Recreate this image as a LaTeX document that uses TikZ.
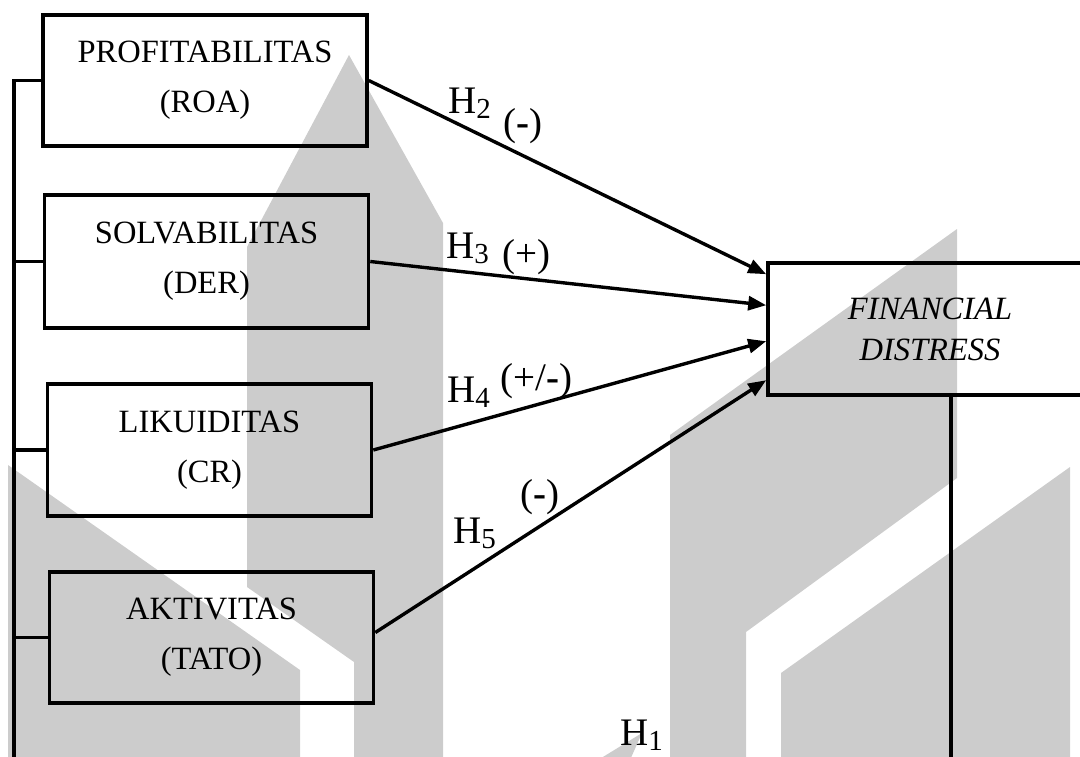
\documentclass[tikz,border=0pt]{standalone}
\usepackage{fontspec}
\setmainfont{Liberation Serif}
\usetikzlibrary{arrows.meta,calc}
\definecolor{wm}{HTML}{CCCCCC}
\newcommand{\hsb}[1]{H\raisebox{-5pt}{\fontsize{29}{30}\selectfont #1}}
\begin{document}
\begin{tikzpicture}[x=1pt,y=-1pt,
  varbox/.style={draw, line width=3.6pt, minimum width=324pt, minimum height=131pt,
    inner sep=0pt, align=center, font=\fontsize{32.5}{50}\selectfont},
  link/.style={line width=3.4pt},
  arr/.style={line width=3.4pt, -{Triangle[length=18pt,width=14pt]}},
  hyp/.style={font=\fontsize{39}{40}\selectfont, inner sep=0pt, anchor=base west},
  wmark/.style={fill=wm, draw=none}]
\useasboundingbox (0,0) rectangle (1080,756);
\clip (0,0) rectangle (1080,756);
% watermark shapes
\path[wmark] (349,55) -- (443,223) -- (443,760) -- (354,760) -- (354,662) -- (247,587) -- (247,247) -- cycle;
\path[wmark] (8,465) -- (300,670) -- (300,760) -- (8,760) -- cycle;
\path[wmark] (670,435) -- (957,229) -- (957,478) -- (746,632) -- (746,760) -- (670,760) -- cycle;
\path[wmark] (1070,467) -- (1070,760) -- (781,760) -- (781,673) -- cycle;
\path[wmark] (598,760) -- (642,733) -- (630,760) -- cycle;
% boxes
\node[varbox] (b1) at (205,80.5) {PROFITABILITAS\\(ROA)};
\node[varbox, minimum height=133pt] (b2) at (206.5,261.5) {SOLVABILITAS\\(DER)};
\node[varbox, minimum height=132pt] (b3) at (209.5,450) {LIKUIDITAS\\(CR)};
\node[varbox] (b4) at (211.5,637.5) {AKTIVITAS\\(TATO)};
\node[varbox, minimum height=132pt, font=\fontsize{32.5}{41}\selectfont\itshape] (fd) at (930,329) {FINANCIAL\\DISTRESS};
% left spine
\coordinate (spb) at (14,770);
\draw[link] (b1.west) -| (spb);
\draw[link] (b2.west) -- (b2.west -| spb);
\draw[link] (b3.west) -- (b3.west -| spb);
\draw[link] (b4.west) -- (b4.west -| spb);
% line below FD
\coordinate (fdb) at (951,770);
\draw[link] (fdb |- fd.south) -- (fdb);
% arrows
\coordinate (t1) at ($(fd.north west)+(0,13)$);
\coordinate (t2) at ($(fd.north west)+(0,44)$);
\coordinate (t3) at ($(fd.north west)+(0,80)$);
\coordinate (t4) at ($(fd.north west)+(0,119)$);
\draw[arr] (b1.east) -- (t1);
\draw[arr] (b2.east) -- (t2);
\draw[arr] (b3.east) -- (t3);
\draw[arr] ($(b4.east)+(0,-5)$) -- (t4);
% labels
\node[hyp] (h2) at (448,113) {\hsb{2}};
\node[hyp] (s2) at (503,135) {(\textbf{-})};
\node[hyp] (h3) at (446,258) {\hsb{3}};
\node[hyp] (s3) at (502,266) {(+)};
\node[hyp] (h4) at (447,402) {\hsb{4}};
\node[hyp] (s4) at (500,390) {(+/\textbf{-})};
\node[hyp] (h5) at (453,543) {\hsb{5}};
\node[hyp] (s5) at (520,506) {(\textbf{-})};
\node[hyp] (h1) at (620,745) {\hsb{1}};
\end{tikzpicture}
\end{document}
